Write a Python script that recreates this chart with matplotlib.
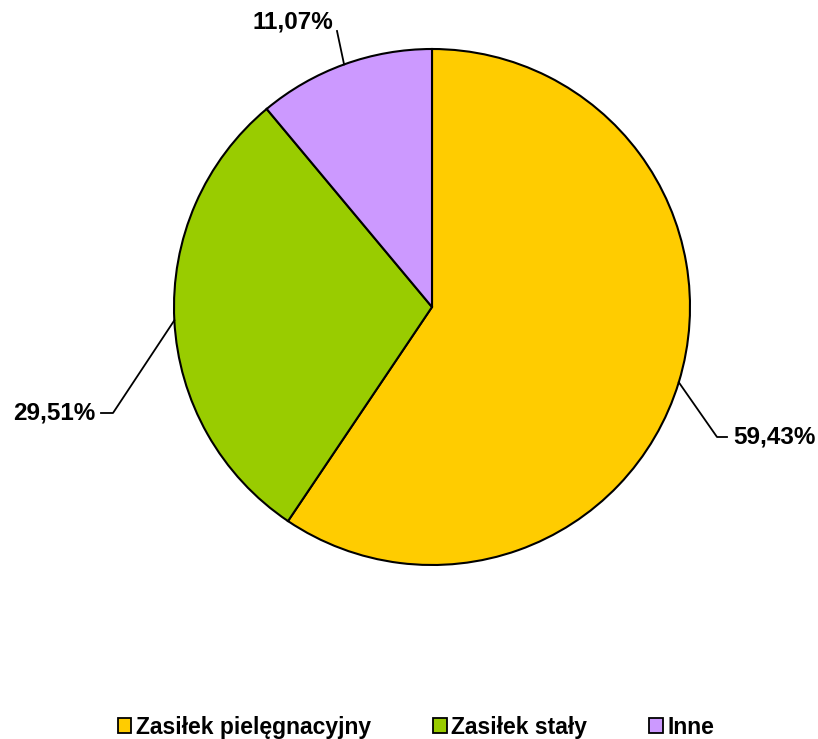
import numpy as np
import matplotlib
import matplotlib.pyplot as plt
from matplotlib.patches import Patch

matplotlib.use('Agg')

labels = ["Zasiłek pielęgnacyjny", "Zasiłek stały", "Inne"]
shares = [59.43, 29.51, 11.07]
colors = ["#FFCC00", "#99CC00", "#CC99FF"]

plt.rcParams['font.family'] = ['Liberation Sans', 'DejaVu Sans']

fig = plt.figure(figsize=(8.18, 7.39), dpi=100)
ax = fig.add_axes([0, 0, 1, 1])

cx, cy, r = 432, 432, 258
wedges, _ = ax.pie(shares, colors=colors, startangle=90, counterclock=False,
                   center=(cx, cy), radius=r, frame=True,
                   wedgeprops=dict(edgecolor='black', linewidth=1.5))
ax.set_xlim(0, 818)
ax.set_ylim(0, 739)
ax.axis('off')

# label layout: (elbow point, end point, text x, text align) per slice
layout = [
    ((717, 302), (727, 302), 733, 'left'),
    ((113, 326), (101, 326), 95, 'right'),
    ((337, 708), (337, 708), 333, 'right'),
]
for w, v, (elbow, end, tx, ha) in zip(wedges, shares, layout):
    ang = np.deg2rad((w.theta1 + w.theta2) / 2)
    px, py = cx + r * np.cos(ang), cy + r * np.sin(ang)
    ax.plot([px, elbow[0], end[0]], [py, elbow[1], end[1]], color='black', lw=1.3)
    txt = f"{v:.2f}%".replace('.', ',')
    if elbow == end:
        ax.text(tx, elbow[1] - 2, txt, ha=ha, va='bottom', fontsize=17.5, fontweight='bold')
    else:
        ax.text(tx, end[1], txt, ha=ha, va='center', fontsize=17.5, fontweight='bold')

handles = [Patch(facecolor=c, edgecolor='black', linewidth=1.3) for c in colors]
fig.legend(handles, labels, loc='center', bbox_to_anchor=(0.5086, 0.016), ncol=3,
           frameon=False, prop=dict(size=16.5, weight='bold'),
           handlelength=0.6, handleheight=0.6, handletextpad=0.2, columnspacing=2.7)

plt.savefig("out.png", dpi=100)
